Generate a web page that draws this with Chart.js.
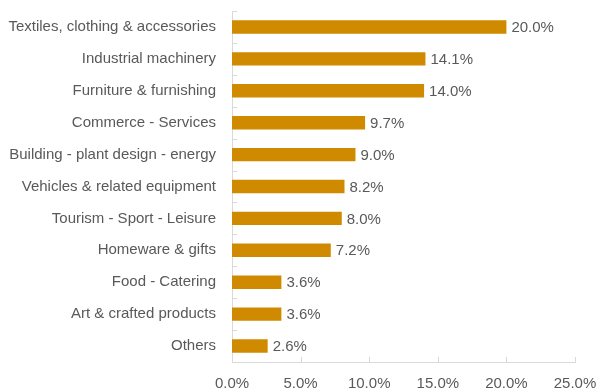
<!DOCTYPE html>
<html>
<head>
<meta charset="utf-8">
<script src="https://cdn.jsdelivr.net/npm/chart.js@4"></script>
<style>
  html, body { margin: 0; padding: 0; background: #fff; }
  #wrap { width: 597px; height: 392px; position: relative; }
</style>
</head>
<body>
<div id="wrap"><canvas id="myChart"></canvas></div>
<script>
var sectors = [
  'Textiles, clothing & accessories',
  'Industrial machinery',
  'Furniture & furnishing',
  'Commerce - Services',
  'Building - plant design - energy',
  'Vehicles & related equipment',
  'Tourism - Sport - Leisure',
  'Homeware & gifts',
  'Food - Catering',
  'Art & crafted products',
  'Others'
];
var shares = [20.0, 14.1, 14.0, 9.7, 9.0, 8.2, 8.0, 7.2, 3.6, 3.6, 2.6];
var xTicks = [0, 5, 10, 15, 20, 25];

var textColor = '#595959';
var axisColor = '#d9d9d9';
var fontFamily = '"Liberation Sans Narrow", "Arial Narrow", "Liberation Sans", Arial, sans-serif';

// short tick marks pointing into the plot, plus the value after each bar
var marksPlugin = {
  id: 'marks',
  afterDatasetsDraw: function(chart) {
    var ctx = chart.ctx;
    var area = chart.chartArea;
    var xs = chart.scales.x;
    var meta = chart.getDatasetMeta(0);
    ctx.save();
    ctx.strokeStyle = axisColor;
    ctx.lineWidth = 1;
    var step = (area.bottom - area.top) / sectors.length;
    for (var i = 0; i <= sectors.length; i++) {
      var y = Math.round(area.top + i * step) + 0.5;
      ctx.beginPath();
      ctx.moveTo(area.left, y);
      ctx.lineTo(area.left + 5, y);
      ctx.stroke();
    }
    xTicks.forEach(function(v) {
      var x = Math.round(xs.getPixelForValue(v)) + 0.5;
      ctx.beginPath();
      ctx.moveTo(x, area.bottom);
      ctx.lineTo(x, area.bottom - 5);
      ctx.stroke();
    });
    ctx.fillStyle = textColor;
    ctx.font = '15px ' + fontFamily;
    ctx.textBaseline = 'middle';
    ctx.textAlign = 'left';
    meta.data.forEach(function(bar, i) {
      ctx.fillText(shares[i].toFixed(1) + '%', bar.x + 5, bar.y + 1);
    });
    ctx.restore();
  }
};

var ctx = document.getElementById('myChart').getContext('2d');
var chart = new Chart(ctx, {
  type: 'bar',
  data: {
    labels: sectors,
    datasets: [{
      data: shares,
      backgroundColor: '#CF8A00',
      borderWidth: 0,
      barPercentage: 0.84,
      categoryPercentage: 0.5
    }]
  },
  options: {
    indexAxis: 'y',
    responsive: true,
    maintainAspectRatio: false,
    animation: false,
    events: [],
    layout: { padding: { top: 11, right: 22, left: 0, bottom: 0 } },
    scales: {
      x: {
        type: 'linear',
        min: 0,
        max: 25,
        afterBuildTicks: function(scale) {
          scale.ticks = xTicks.map(function(v) { return { value: v }; });
        },
        afterFit: function(scale) {
          scale.height = 30;
          scale.paddingLeft = 0;
          scale.paddingRight = 0;
        },
        grid: { display: false, drawTicks: false },
        border: { display: true, color: axisColor, width: 1 },
        ticks: {
          padding: 13,
          color: textColor,
          font: { size: 15, family: fontFamily },
          callback: function(value) { return value.toFixed(1) + '%'; }
        }
      },
      y: {
        afterFit: function(scale) {
          scale.width = 232;
          scale.paddingTop = 0;
          scale.paddingBottom = 0;
        },
        grid: { display: false, drawTicks: false },
        border: { display: true, color: axisColor, width: 1 },
        ticks: {
          padding: 16,
          color: textColor,
          font: { size: 15, family: fontFamily }
        }
      }
    },
    plugins: {
      legend: { display: false },
      tooltip: { enabled: false }
    }
  },
  plugins: [marksPlugin]
});
</script>
</body>
</html>
